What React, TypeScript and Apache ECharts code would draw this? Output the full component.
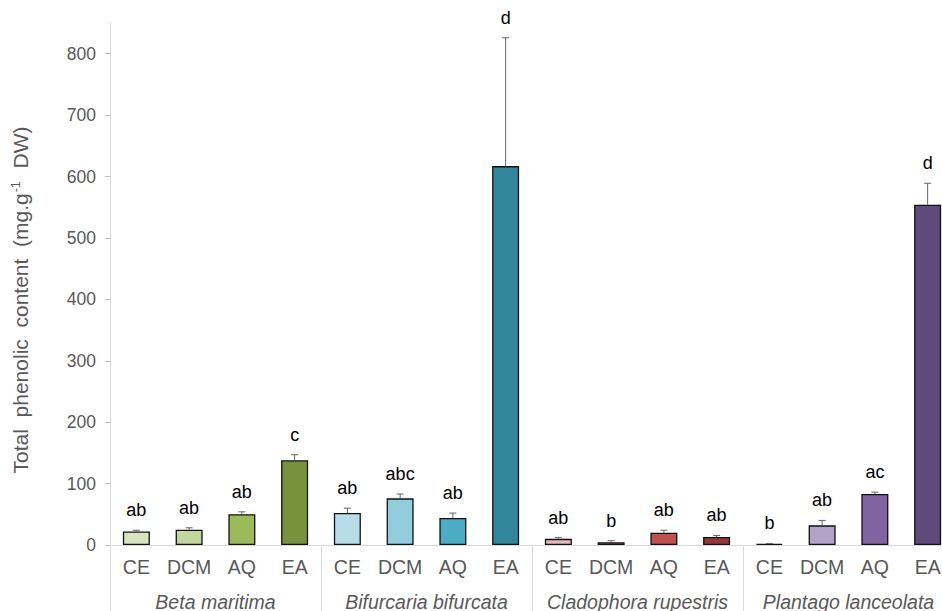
import React, { useEffect, useRef } from "react";
import * as echarts from "echarts";

const species = ["Beta maritima", "Bifurcaria bifurcata", "Cladophora rupestris", "Plantago lanceolata"];
const extracts = ["CE", "DCM", "AQ", "EA"];
const means = [22, 25, 50, 138, 52, 76, 44, 617, 10, 4.5, 20, 13, 2, 32, 83, 554];
const errors = [2, 3, 4, 9, 8, 7, 8, 209, 2, 2.5, 4, 2.5, 0.5, 8, 3, 35];
const letters = ["ab", "ab", "ab", "c", "ab", "abc", "ab", "d", "ab", "b", "ab", "ab", "b", "ab", "ac", "d"];
const yTicks = [0, 100, 200, 300, 400, 500, 600, 700, 800];

const palette = [
  "#D7E4BD", "#C3D69B", "#9BBB59", "#76933C",
  "#B7DEE8", "#92CDDC", "#4BACC6", "#31859C",
  "#E6B9B8", "#D99694", "#C0504D", "#953735",
  "#CCC1DA", "#B3A2C7", "#8064A2", "#604A7B",
];

const FONT = "Liberation Sans, Arial, sans-serif";

export default function App() {
  const ref = useRef<HTMLDivElement>(null);
  useEffect(() => {
    if (!ref.current) return;
    const chart = echarts.init(ref.current, null, { renderer: "svg" });
    const categories: string[] = [];
    species.forEach(() => extracts.forEach((e) => categories.push(e)));
    const option: any = {
      animation: false,
      textStyle: { fontFamily: FONT },
      grid: { left: 110, top: 23, width: 844, height: 522, containLabel: false, outerBoundsMode: "none" },
      xAxis: [
        {
          type: "category",
          data: categories,
          position: "bottom",
          axisLine: { lineStyle: { color: "#d9d9d9", width: 1 } },
          axisTick: { show: false },
          axisLabel: { interval: 0, fontSize: 19.5, color: "#595959", margin: 12, fontFamily: FONT },
        },
        {
          type: "category",
          data: species,
          position: "bottom",
          axisLine: { show: false },
          axisTick: { show: true, interval: 0, length: 70, lineStyle: { color: "#d9d9d9", width: 1 } },
          axisLabel: { interval: 0, fontSize: 19.5, fontStyle: "italic", color: "#595959", margin: 47, fontFamily: FONT },
        },
      ],
      yAxis: {
        type: "value",
        min: 0,
        max: 850,
        interval: 100,
        splitLine: { show: false },
        axisLine: { show: true, lineStyle: { color: "#d9d9d9", width: 1 } },
        axisTick: { show: true, length: 5, lineStyle: { color: "#bfbfbf" }, customValues: yTicks },
        axisLabel: { fontSize: 17.5, color: "#595959", margin: 14, fontFamily: FONT, customValues: yTicks },
      },
      graphic: [
        {
          type: "text",
          x: 20,
          y: 300,
          rotation: Math.PI / 2,
          style: {
            text: "{a|Total  phenolic  content  (mg.g}{s|-1}{a|  DW)}",
            align: "center",
            verticalAlign: "middle",
            rich: {
              a: { fontSize: 21, fill: "#595959", fontFamily: FONT },
              s: { fontSize: 12.5, fill: "#595959", fontFamily: FONT, verticalAlign: "top", padding: [0, 1, 9, 1] },
            },
          },
        },
      ],
      series: [
        {
          type: "bar",
          xAxisIndex: 0,
          barWidth: 27,
          data: means.map((v, i) => ({
            value: v,
            itemStyle: { color: palette[i], borderColor: "#111", borderWidth: 1.3 },
          })),
        },
        {
          type: "custom",
          xAxisIndex: 0,
          data: means.map((v, i) => [i, v, errors[i]]),
          encode: { x: 0, y: 1 },
          renderItem: (params: any, api: any) => {
            const i = api.value(0);
            const m = api.value(1);
            const e = api.value(2);
            const base = api.coord([i, m]);
            const top = api.coord([i, m + e]);
            return {
              type: "group",
              children: [
                {
                  type: "line",
                  shape: { x1: base[0], y1: base[1], x2: top[0], y2: top[1] },
                  style: { stroke: "#666", lineWidth: 1 },
                },
                {
                  type: "line",
                  shape: { x1: top[0] - 3.5, y1: top[1], x2: top[0] + 3.5, y2: top[1] },
                  style: { stroke: "#666", lineWidth: 1 },
                },
                {
                  type: "text",
                  x: top[0],
                  y: top[1] - 11,
                  style: {
                    text: letters[params.dataIndex],
                    align: "center",
                    verticalAlign: "bottom",
                    fontSize: 18,
                    fill: "#000",
                    fontFamily: FONT,
                  },
                },
              ],
            };
          },
          z: 5,
        },
      ],
    };
    chart.setOption(option);
    return () => chart.dispose();
  }, []);
  return (
    <div
      ref={ref}
      style={{ position: "absolute", left: 0, top: 0, width: 942, height: 611, background: "#fff" }}
    />
  );
}
